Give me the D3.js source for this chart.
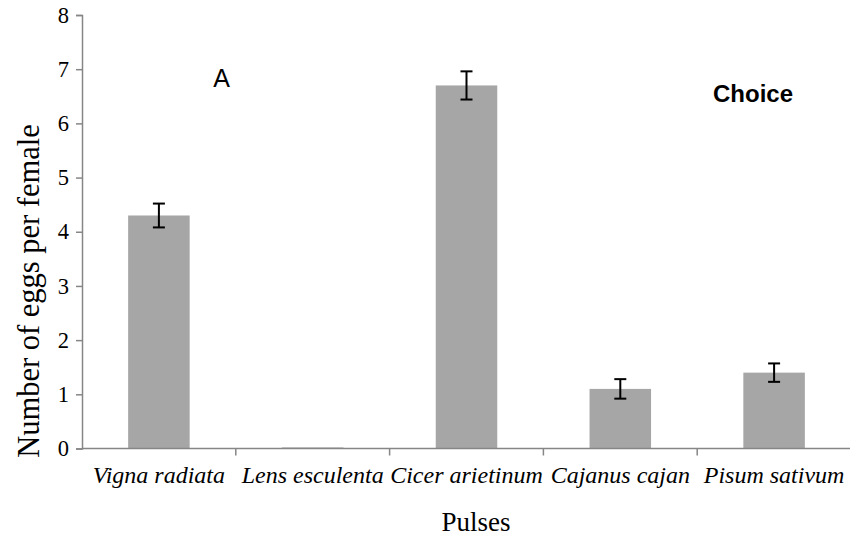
<!DOCTYPE html>
<html>
<head>
<meta charset="utf-8">
<script src="https://cdn.jsdelivr.net/npm/d3@7"></script>
<style>
  html, body { margin: 0; padding: 0; background: #fff; }
  svg { display: block; }
</style>
</head>
<body>
<svg id="chart" width="850" height="541"></svg>
<script>
// Egg counts per female for each pulse (choice test)
const categories = ["Vigna radiata", "Lens esculenta", "Cicer arietinum", "Cajanus cajan", "Pisum sativum"];
const means = [4.3, 0.02, 6.7, 1.1, 1.4];
const errors = [0.22, 0.0, 0.26, 0.18, 0.17];
const yTicks = [0, 1, 2, 3, 4, 5, 6, 7, 8];

const svg = d3.select("#chart");
const left = 82, right = 851;

const x = d3.scaleBand()
  .domain(categories)
  .range([left, right])
  .paddingInner(0.6)
  .paddingOuter(0.3);

const y = d3.scaleLinear()
  .domain([0, 8])
  .range([448.5, 15]);

const axisColor = "#868686";
const serif = "'Liberation Serif', 'Times New Roman', serif";
const sans = "'Liberation Sans', Arial, sans-serif";

// Bars
svg.append("g").selectAll("rect")
  .data(categories)
  .join("rect")
  .attr("x", d => x(d))
  .attr("width", x.bandwidth())
  .attr("y", (d, i) => y(means[i]))
  .attr("height", (d, i) => Math.max(1, y(0) - y(means[i])))
  .attr("fill", "#a6a6a6");

// Error bars
const eb = svg.append("g").attr("stroke", "#000").attr("stroke-width", 2);
categories.forEach((c, i) => {
  if (errors[i] <= 0) return;
  const cx = x(c) + x.bandwidth() / 2;
  const top = y(means[i] + errors[i]);
  const bot = y(means[i] - errors[i]);
  eb.append("line").attr("x1", cx).attr("x2", cx).attr("y1", top).attr("y2", bot);
  eb.append("line").attr("x1", cx - 6).attr("x2", cx + 6).attr("y1", top).attr("y2", top);
  eb.append("line").attr("x1", cx - 6).attr("x2", cx + 6).attr("y1", bot).attr("y2", bot);
});

// Y axis
const yAxis = svg.append("g")
  .attr("transform", `translate(${left},0)`)
  .call(d3.axisLeft(y).tickValues(yTicks).tickSize(6).tickPadding(7).tickFormat(d3.format("d")));
yAxis.select(".domain").attr("stroke", axisColor).attr("stroke-width", 1.5);
yAxis.selectAll(".tick line").attr("stroke", axisColor).attr("stroke-width", 1.5);
yAxis.selectAll(".tick text")
  .attr("font-family", serif).attr("font-size", 22.5).attr("fill", "#000");

// X axis: ticks sit on the category boundaries
const step = (right - left) / categories.length;
const xg = svg.append("g");
xg.append("line")
  .attr("x1", left).attr("x2", right)
  .attr("y1", y(0)).attr("y2", y(0))
  .attr("stroke", axisColor).attr("stroke-width", 1.5);
d3.range(1, categories.length).forEach(i => {
  const bx = left + i * step;
  xg.append("line")
    .attr("x1", bx).attr("x2", bx)
    .attr("y1", y(0)).attr("y2", y(0) + 7)
    .attr("stroke", axisColor).attr("stroke-width", 1.5);
});
xg.selectAll("text.cat")
  .data(categories)
  .join("text")
  .attr("class", "cat")
  .attr("x", d => x(d) + x.bandwidth() / 2)
  .attr("y", 483)
  .attr("text-anchor", "middle")
  .attr("font-family", serif)
  .attr("font-style", "italic")
  .attr("font-size", 24)
  .attr("fill", "#000")
  .text(d => d);

// Axis titles
svg.append("text")
  .attr("x", 476).attr("y", 531)
  .attr("text-anchor", "middle")
  .attr("font-family", serif).attr("font-size", 27)
  .text("Pulses");

svg.append("text")
  .attr("transform", "translate(39,291) rotate(-90)")
  .attr("text-anchor", "middle")
  .attr("font-family", serif).attr("font-size", 30.5)
  .text("Number of eggs per female");

// Panel annotations
svg.append("text")
  .attr("x", 221.5).attr("y", 87)
  .attr("text-anchor", "middle")
  .attr("font-family", sans).attr("font-size", 25)
  .text("A");

svg.append("text")
  .attr("x", 753).attr("y", 102)
  .attr("text-anchor", "middle")
  .attr("font-family", sans).attr("font-weight", "bold").attr("font-size", 24)
  .text("Choice");
</script>
</body>
</html>
